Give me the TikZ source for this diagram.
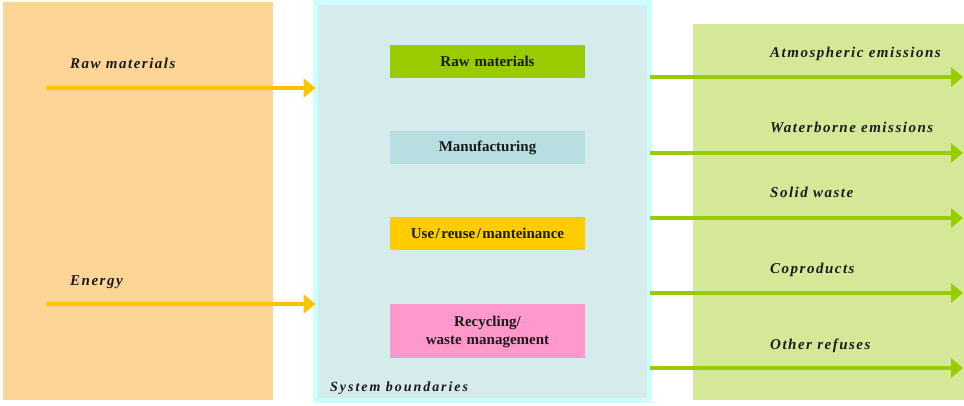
\documentclass[tikz,border=0pt]{standalone}
\usepackage{fontspec}
\setmainfont{Liberation Serif}
\newfontfamily\labelfont[LetterSpace=10]{Liberation Serif}
\newfontfamily\sysfont[LetterSpace=14]{Liberation Serif}
\usetikzlibrary{arrows.meta}

\definecolor{inpanel}{HTML}{FDD597}
\definecolor{outpanel}{HTML}{D4E897}
\definecolor{sysfill}{HTML}{D6EBEC}
\definecolor{sysedge}{HTML}{CCFFFF}
\definecolor{ingold}{HTML}{FFC400}
\definecolor{outgreen}{HTML}{99CC00}
\definecolor{stageraw}{HTML}{99CC00}
\definecolor{stagemanu}{HTML}{B7DEE1}
\definecolor{stageuse}{HTML}{FFCC00}
\definecolor{stagerec}{HTML}{FF99CC}
\definecolor{textdark}{HTML}{1A1A1A}

% slash with a little air on both sides
\newcommand{\spslash}{\kern1.5pt/\kern1.5pt}

\tikzset{
  panel/.style={anchor=north west, inner sep=0pt, outer sep=0pt},
  stagebox/.style={anchor=north west, inner sep=0pt, outer sep=0pt,
    minimum width=195pt, text width=195pt, align=center,
    font=\fontsize{15}{18}\selectfont\bfseries, text=textdark},
  flowlabel/.style={anchor=base west, inner sep=0pt,
    font=\labelfont\fontsize{15}{18}\selectfont\bfseries\itshape, text=textdark},
  inflow/.style={draw=ingold, line width=4pt,
    -{Triangle[length=12pt,width=19pt]}},
  outflow/.style={draw=outgreen, line width=4pt,
    -{Triangle[length=12pt,width=19pt]}},
}

\begin{document}
\begin{tikzpicture}[x=1pt,y=-1pt]
  \useasboundingbox (0,0) rectangle (964,406);

  % input, system and output panels
  \node[panel, fill=inpanel, minimum width=270pt, minimum height=398pt] (inp) at (3,2) {};
  \node[panel, fill=outpanel, minimum width=271pt, minimum height=376pt] (outp) at (693,24) {};
  \node[panel, fill=sysfill, draw=sysedge, line width=5pt,
        minimum width=334pt, minimum height=398pt] (sys) at (315.5,2.5) {};

  % life-cycle stages
  \node[stagebox, fill=stageraw, minimum height=33pt] (raw) at (390,45) {Raw materials};
  \node[stagebox, fill=stagemanu, minimum height=33pt] (manu) at (390,131) {Manufacturing};
  \node[stagebox, fill=stageuse, minimum height=33pt] (use) at (390,217) {Use\spslash reuse\spslash manteinance};
  \node[stagebox, fill=stagerec, minimum height=54pt] (rec) at (390,304) {\rule{0pt}{13pt}Recycling/\\waste management};

  \node[anchor=base west, inner sep=0pt, text=textdark,
        font=\sysfont\fontsize{14}{18}\selectfont\bfseries\itshape] (sysname) at (330,391) {System boundaries};

  % inputs
  \coordinate (rawin) at (46,88);
  \coordinate (enin) at (46,304);
  \node[flowlabel] (rawlbl) at (70,69) {Raw materials};
  \node[flowlabel] (enlbl) at (70,285) {Energy};
  \draw[inflow] (rawin) -- (sys.west |- rawin);
  \draw[inflow] (enin) -- (sys.west |- enin);

  % outputs
  \foreach \name/\yy/\by/\txt in {atm/77/58/Atmospheric emissions,
                                  wat/153/133/Waterborne emissions,
                                  sol/218/198/Solid waste,
                                  cop/293/273/Coproducts,
                                  oth/368/349/Other refuses}{
    \coordinate (\name out) at (963,\yy);
    \node[flowlabel] (\name lbl) at (770,\by) {\txt};
    \draw[outflow] (sys.east |- \name out) -- (\name out);
  }
\end{tikzpicture}
\end{document}
